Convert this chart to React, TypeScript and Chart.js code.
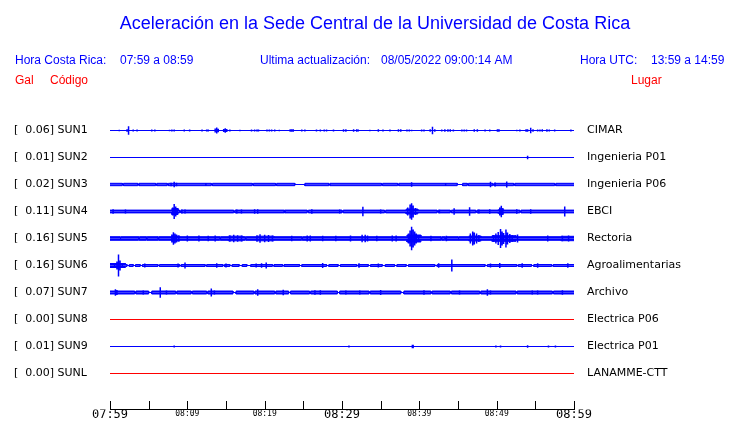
import React, { useEffect, useRef } from 'react';
import { Chart, registerables } from 'chart.js';

Chart.register(...registerables);

// ---------- texts ----------
const TITLE = 'Aceleración en la Sede Central de la Universidad de Costa Rica';
const HORA_CR = ['Hora Costa Rica:', '07:59 a 08:59'];
const ACTUALIZACION = ['Ultima actualización:', '08/05/2022 09:00:14 AM'];
const HORA_UTC = ['Hora UTC:', '13:59 a 14:59'];
const COLUMN_HEADS = ['Gal', 'Código', 'Lugar'];

// ---------- stations ----------
const STATIONS = ['SUN1', 'SUN2', 'SUN3', 'SUN4', 'SUN5', 'SUN6', 'SUN7', 'SUN8', 'SUN9', 'SUNL'];
const PEAK_GAL = ['0.06', '0.01', '0.02', '0.11', '0.16', '0.16', '0.07', '0.00', '0.01', '0.00'];
const PLACES = ['CIMAR', 'Ingenieria P01', 'Ingenieria P06', 'EBCI', 'Rectoria', 'Agroalimentarias', 'Archivo', 'Electrica P06', 'Electrica P01', 'LANAMME-CTT'];
const ONLINE = [true, true, true, true, true, true, true, false, true, false];

// ---------- time axis (minutes after 07:59) ----------
const X_TICK_LABELS = ['07:59', '', '08:09', '', '08:19', '', '08:29', '', '08:39', '', '08:49', '', '08:59'];
const X_MAJOR_LABELS = ['07:59', '08:29', '08:59'];

// ---------- traces: envelope steps [minute, amplitude], thin gaps [from, to], peaks [minute, amplitude] ----------
const ENV_SUN1 = [[0, 0]];
const GAPS_SUN1 = [];
const PEAKS_SUN1 = [
  [1.2, 0.8], [2.2, 1.3], [2.4, 4.3], [3.0, 1], [3.5, 1], [5.4, 1], [5.8, 1], [7.7, 0.8], [8.0, 1], [8.3, 1],
  [9.6, 1], [10.3, 1], [11.9, 1], [12.5, 1], [12.7, 1], [13.6, 2], [13.8, 3], [14.0, 1.7], [14.7, 1.5], [14.9, 2.3],
  [15.1, 1.5], [15.5, 1], [16.8, 0.7], [18.3, 1], [18.7, 1], [19.0, 1], [19.2, 1], [20.3, 1], [20.6, 1], [20.9, 1],
  [21.3, 1], [21.9, 0.8], [23.3, 1.3], [23.5, 1.3], [23.7, 1.3], [24.8, 1], [25.2, 1], [26.7, 1], [27.2, 1], [27.7, 1],
  [28.0, 1], [28.9, 1], [30.2, 1.3], [30.5, 1.3], [31.5, 1.3], [31.9, 1.3], [32.1, 1], [33.6, 0.7], [34.7, 1.3], [35.3, 1],
  [36.2, 1], [37.3, 1.3], [37.6, 1.3], [38.4, 1], [38.7, 1], [39.0, 0.8], [40.3, 1], [40.6, 1], [41.4, 1.3], [41.7, 3.7],
  [42.0, 1.3], [42.9, 1], [43.3, 1.3], [43.7, 1.3], [44.0, 1.3], [44.4, 1], [45.5, 1], [45.8, 1], [46.1, 1], [47.1, 1.3],
  [47.5, 1.3], [48.5, 1], [49.1, 1], [50.1, 1.3], [50.3, 1.3], [52.6, 0.8], [53.0, 1], [53.8, 1.3], [54.0, 1.3], [54.4, 2.7],
  [54.7, 1.3], [55.3, 1], [55.6, 1], [55.9, 1.3], [56.5, 1.3], [56.8, 1], [57.5, 1], [59.6, 1],
];

const ENV_SUN2 = [[0, 0]];
const GAPS_SUN2 = [];
const PEAKS_SUN2 = [[54.0, 1.7]];

const ENV_SUN3 = [[0, 1.2]];
const GAPS_SUN3 = [
  [1.6, 1.75], [3.6, 3.75], [5.9, 6.05], [7.4, 7.55], [13.1, 13.25], [18.4, 18.55], [21.4, 21.55],
  [23.9, 25.2], [28.3, 28.45], [35.1, 35.25], [37.2, 37.35], [44.9, 45.6], [46.2, 46.35], [49.5, 49.65],
  [52.2, 52.35], [57.5, 57.65],
];
const PEAKS_SUN3 = [[7.9, 1.7], [8.3, 2.7], [8.6, 1.7], [12.4, 1.5], [39.0, 2.3], [43.4, 1.5], [49.2, 2.7], [49.8, 2], [51.3, 3]];

const ENV_SUN4 = [[0, 1.4], [8.0, 3], [8.8, 1.4], [38.3, 2.5], [39.8, 1.4], [50.2, 1.8], [50.9, 1.4]];
const GAPS_SUN4 = [[9.0, 9.15], [16.0, 16.15], [22.5, 22.65], [25.5, 25.65], [30.0, 30.15], [35.5, 35.65], [42.3, 42.45], [44.0, 44.15], [47.3, 47.45], [53.0, 53.15]];
const PEAKS_SUN4 = [
  [0.4, 2.3], [2.0, 2], [8.1, 4], [8.3, 7.5], [8.5, 5], [8.7, 3], [9.3, 2], [9.7, 2], [16.4, 2], [17.0, 2],
  [18.7, 2.3], [19.1, 2.3], [22.6, 1.7], [26.1, 2.3], [29.7, 2], [32.7, 4.7], [35.0, 2], [38.5, 4], [38.8, 7], [39.0, 8.3],
  [39.2, 6], [39.5, 3.5], [42.6, 1.7], [44.5, 3.3], [46.5, 4.3], [47.7, 2], [49.1, 2.3], [50.4, 4], [50.6, 5.7], [50.8, 3.5],
  [52.6, 2.3], [54.4, 2.3], [58.8, 5],
];

const ENV_SUN5 = [[0, 1.8], [8, 2.5], [9, 1.8], [15.3, 2.3], [17.2, 1.8], [19, 2.3], [21.2, 1.8], [38.4, 3.5], [40.2, 1.8], [46.4, 2.5], [48, 1.8], [49.4, 2.8], [52.5, 1.8], [58.3, 2.2]];
const GAPS_SUN5 = [[1.3, 1.4], [3.7, 3.8], [4.7, 4.8], [6.2, 6.3], [14.2, 14.3], [17.5, 17.6], [24.8, 24.9], [42.8, 42.9], [43.3, 43.4], [45.0, 45.1]];
const PEAKS_SUN5 = [
  [8.0, 4], [8.2, 6.3], [8.4, 5], [8.6, 4], [8.9, 3], [10, 3], [11.5, 3], [12.7, 2.7], [13.6, 3], [15.5, 3.3],
  [16.0, 3.7], [16.5, 3.3], [17.0, 3], [19.0, 3.3], [19.4, 4.3], [20.0, 3.7], [20.5, 3.5], [21.0, 3], [23.5, 2.7], [25.5, 3],
  [25.9, 3], [27.5, 2.7], [29.2, 2.7], [31.1, 3], [32.6, 3.7], [33.0, 3.7], [33.3, 3], [34.5, 2.7], [36.5, 3], [37.0, 3],
  [38.6, 5], [38.8, 8], [39.0, 11.7], [39.2, 9], [39.4, 7], [39.6, 5], [39.9, 3.5], [41.5, 2.7], [43.5, 2.7], [46.6, 5],
  [46.9, 7], [47.1, 6], [47.4, 5], [47.7, 3.5], [49.6, 3.5], [49.9, 5], [50.2, 6.5], [50.5, 9.5], [50.7, 7], [50.9, 5.5],
  [51.2, 9], [51.4, 6], [51.7, 4.5], [52.0, 3.5], [52.7, 4], [56.6, 3], [58.5, 2.7], [59.3, 3],
];

const ENV_SUN6 = [[0, 2], [2, 1]];
const GAPS_SUN6 = [
  [2.2, 2.5], [3.0, 3.3], [3.9, 4.2], [6.2, 6.4], [9.0, 9.2], [12.3, 12.5], [14.6, 14.8],
  [15.5, 15.8], [16.7, 17.1], [17.7, 18.2], [21.0, 21.2], [22.3, 22.5], [24.5, 24.8], [28.0, 28.3], [29.5, 29.8],
  [31.9, 32.1], [33.4, 33.7], [35.2, 35.6], [36.8, 37.1], [38.3, 38.6], [42.0, 42.3], [48.5, 48.8],
  [52.6, 52.8], [54.5, 54.8], [57.1, 57.3],
];
const PEAKS_SUN6 = [
  [0.6, 2.5], [0.9, 4], [1.1, 11], [1.3, 5], [1.6, 2.5], [4.5, 2], [8.8, 2], [9.7, 3], [13.8, 2.3], [15.0, 2],
  [18.9, 2], [19.6, 2.3], [20.2, 3], [27.5, 2.5], [32.2, 2.3], [34.7, 2], [42.5, 2.3], [44.2, 6], [49.2, 2], [50.4, 2.5],
  [53.3, 2.3], [55.3, 2.3], [59.2, 2.3],
];

const ENV_SUN7 = [[0, 1.5]];
const GAPS_SUN7 = [
  [3.2, 3.35], [5.0, 5.4], [8.5, 8.65], [10.5, 10.65], [12.5, 12.65],
  [15.9, 16.3], [18.6, 18.75], [21.3, 21.45], [23.1, 23.35], [25.8, 25.95],
  [29.4, 29.7], [33.5, 33.65], [37.6, 38.0], [41.5, 41.65], [44.0, 44.15],
  [47.8, 47.95], [52.5, 52.65], [57.2, 57.35],
];
const PEAKS_SUN7 = [
  [0.7, 3.3], [0.9, 2.5], [4.3, 2], [6.5, 5.3], [7.3, 2], [13.1, 4], [13.5, 2], [19.1, 3.3], [22.4, 2.7], [26.5, 2.3],
  [27.2, 2.3], [30.5, 2], [32.3, 2], [35.0, 2.5], [40.6, 2.3], [45.2, 2], [48.8, 3.3], [49.2, 2], [54.6, 2], [55.3, 2],
  [58.5, 2.3],
];

const ENV_SUN8 = [[0, 0]];
const GAPS_SUN8 = [];
const PEAKS_SUN8 = [];

const ENV_SUN9 = [[0, 0]];
const GAPS_SUN9 = [];
const PEAKS_SUN9 = [[8.3, 1], [30.9, 1], [39.1, 1.7], [39.2, 1.7], [49.9, 1], [50.5, 1], [54.0, 1.3], [56.7, 1], [57.6, 1]];

const ENV_SUNL = [[0, 0]];
const GAPS_SUNL = [];
const PEAKS_SUNL = [];

const ENVELOPES = [ENV_SUN1, ENV_SUN2, ENV_SUN3, ENV_SUN4, ENV_SUN5, ENV_SUN6, ENV_SUN7, ENV_SUN8, ENV_SUN9, ENV_SUNL];
const GAPS = [GAPS_SUN1, GAPS_SUN2, GAPS_SUN3, GAPS_SUN4, GAPS_SUN5, GAPS_SUN6, GAPS_SUN7, GAPS_SUN8, GAPS_SUN9, GAPS_SUNL];
const PEAKS = [PEAKS_SUN1, PEAKS_SUN2, PEAKS_SUN3, PEAKS_SUN4, PEAKS_SUN5, PEAKS_SUN6, PEAKS_SUN7, PEAKS_SUN8, PEAKS_SUN9, PEAKS_SUNL];

const SLOT = 27; // amplitude units per trace slot
const T_END = 60;

function bandPoints(i: number, env: number[][], gaps: number[][], sign: number) {
  const cuts = new Set<number>([0, T_END]);
  env.forEach(([m]) => cuts.add(m));
  gaps.forEach(([a, b]) => { cuts.add(a); cuts.add(b); });
  const xs = Array.from(cuts).sort((a, b) => a - b);
  const ampAt = (x: number) => {
    if (gaps.some(([a, b]) => x >= a && x < b)) return 0;
    let v = 0;
    for (const [m, a] of env) if (m <= x) v = a;
    return v;
  };
  const pts: { x: number; y: number }[] = [];
  let prev: number | null = null;
  xs.forEach((x) => {
    const a = x < T_END ? ampAt(x) : (prev as number);
    if (prev !== null && a !== prev) pts.push({ x, y: i + (sign * prev) / SLOT });
    pts.push({ x, y: i + (sign * a) / SLOT });
    prev = a;
  });
  return pts;
}

function peakPoints(i: number, peaks: number[][]) {
  const pts: { x: number; y: number | null }[] = [];
  peaks.forEach(([m, h]) => {
    pts.push({ x: m, y: i - h / SLOT });
    pts.push({ x: m, y: i + h / SLOT });
    pts.push({ x: m, y: null });
  });
  return pts;
}

const decorPlugin = {
  id: 'decor',
  afterDraw(chart: any) {
    const ctx = chart.ctx;
    const xs = chart.scales.x;
    const area = chart.chartArea;
    ctx.save();
    ctx.textBaseline = 'alphabetic';
    ctx.textAlign = 'center';
    ctx.fillStyle = '#0000ff';
    ctx.font = '18px "Liberation Sans", Arial, sans-serif';
    ctx.fillText(TITLE, 375, 29);

    ctx.textAlign = 'left';
    ctx.font = '12px "Liberation Sans", Arial, sans-serif';
    ctx.fillText(HORA_CR[0], 15, 64);
    ctx.fillText(HORA_CR[1], 120, 64);
    ctx.fillText(ACTUALIZACION[0], 260, 64);
    ctx.fillText(ACTUALIZACION[1], 381, 64);
    ctx.fillText(HORA_UTC[0], 580, 64);
    ctx.fillText(HORA_UTC[1], 651, 64);

    ctx.fillStyle = '#ff0000';
    ctx.fillText(COLUMN_HEADS[0], 15, 84);
    ctx.fillText(COLUMN_HEADS[1], 50, 84);
    ctx.fillText(COLUMN_HEADS[2], 631, 84);

    // time axis base line with upward tick marks
    const yb = Math.round(area.bottom) - 0.5;
    ctx.strokeStyle = '#000';
    ctx.lineWidth = 1;
    ctx.beginPath();
    ctx.moveTo(Math.round(area.left), yb);
    ctx.lineTo(Math.round(area.right) + 1, yb);
    xs.ticks.forEach((t: any) => {
      const px = Math.round(xs.getPixelForValue(t.value)) + 0.5;
      ctx.moveTo(px, yb - 8.5);
      ctx.lineTo(px, yb + 0.5);
    });
    ctx.stroke();
    ctx.restore();
  },
};

export default function App() {
  const canvasRef = useRef<HTMLCanvasElement | null>(null);

  useEffect(() => {
    const canvas = canvasRef.current;
    if (!canvas) return;
    const datasets: any[] = [];
    STATIONS.forEach((_, i) => {
      const color = ONLINE[i] ? '#0000ff' : '#ff0000';
      [-1, 1].forEach((sign) => {
        datasets.push({
          data: bandPoints(i, ENVELOPES[i], GAPS[i], sign),
          borderColor: color,
          backgroundColor: color,
          borderWidth: 1,
          pointRadius: 0,
          fill: { value: i },
          order: 2,
        });
      });
      if (PEAKS[i].length) {
        datasets.push({
          data: peakPoints(i, PEAKS[i]),
          borderColor: color,
          borderWidth: 1.5,
          pointRadius: 0,
          spanGaps: false,
          fill: false,
          order: 1,
        });
      }
    });

    const traceIdx = STATIONS.map((_, i) => i);
    const fitVertical = (width: number) => (s: any) => {
      s.width = width;
      s.paddingTop = 0;
      s.paddingBottom = 0;
    };
    const yCommon = {
      type: 'linear',
      min: -1,
      max: 31 / 3,
      reverse: true,
      grid: { display: false, drawTicks: false },
      border: { display: false },
      afterBuildTicks: (scale: any) => {
        scale.ticks = traceIdx.map((v) => ({ value: v }));
      },
    };

    const chart = new Chart(canvas, {
      type: 'line',
      data: { datasets },
      options: {
        responsive: false,
        animation: false,
        events: [],
        layout: { autoPadding: false, padding: { left: 14, right: 0, top: 103.5, bottom: 0 } },
        plugins: { legend: { display: false }, tooltip: { enabled: false }, title: { display: false } },
        elements: { line: { tension: 0 }, point: { radius: 0 } },
        scales: {
          x: {
            type: 'linear',
            min: 0,
            max: T_END,
            grid: { display: false, drawTicks: false },
            border: { display: false },
            afterFit: (s: any) => { s.height = 13.5; s.paddingLeft = 0; s.paddingRight = 0; },
            ticks: {
              stepSize: 5,
              autoSkip: false,
              maxRotation: 0,
              padding: -1.5,
              color: '#000',
              callback: (v: any) => X_TICK_LABELS[Math.round(v / 5)] ?? '',
              font: (c: any) => {
                const lab = X_TICK_LABELS[Math.round((c.tick ? c.tick.value : 0) / 5)];
                return X_MAJOR_LABELS.includes(lab)
                  ? { family: '"DejaVu Sans Mono", monospace', size: 12, lineHeight: 1.2 }
                  : { family: '"DejaVu Sans Mono", monospace', size: 8, lineHeight: 1.5 };
              },
            },
          },
          y: {
            ...yCommon,
            position: 'left',
            afterFit: fitVertical(96),
            ticks: {
              crossAlign: 'far',
              padding: 0,
              color: '#000',
              font: { family: '"DejaVu Sans", sans-serif', size: 11 },
              callback: (v: any) => `[  ${PEAK_GAL[v]}] ${STATIONS[v]}`,
            },
          },
          y2: {
            ...yCommon,
            position: 'right',
            afterFit: fitVertical(166),
            ticks: {
              crossAlign: 'near',
              padding: 13,
              color: '#000',
              font: { family: '"DejaVu Sans", sans-serif', size: 11 },
              callback: (v: any) => PLACES[v],
            },
          },
        },
      } as any,
      plugins: [decorPlugin],
    });
    return () => chart.destroy();
  }, []);

  return (
    <div style={{ position: 'absolute', left: 0, top: 0, width: 740, height: 423, background: '#fff' }}>
      <canvas ref={canvasRef} width={740} height={423} style={{ display: 'block' }} />
    </div>
  );
}
